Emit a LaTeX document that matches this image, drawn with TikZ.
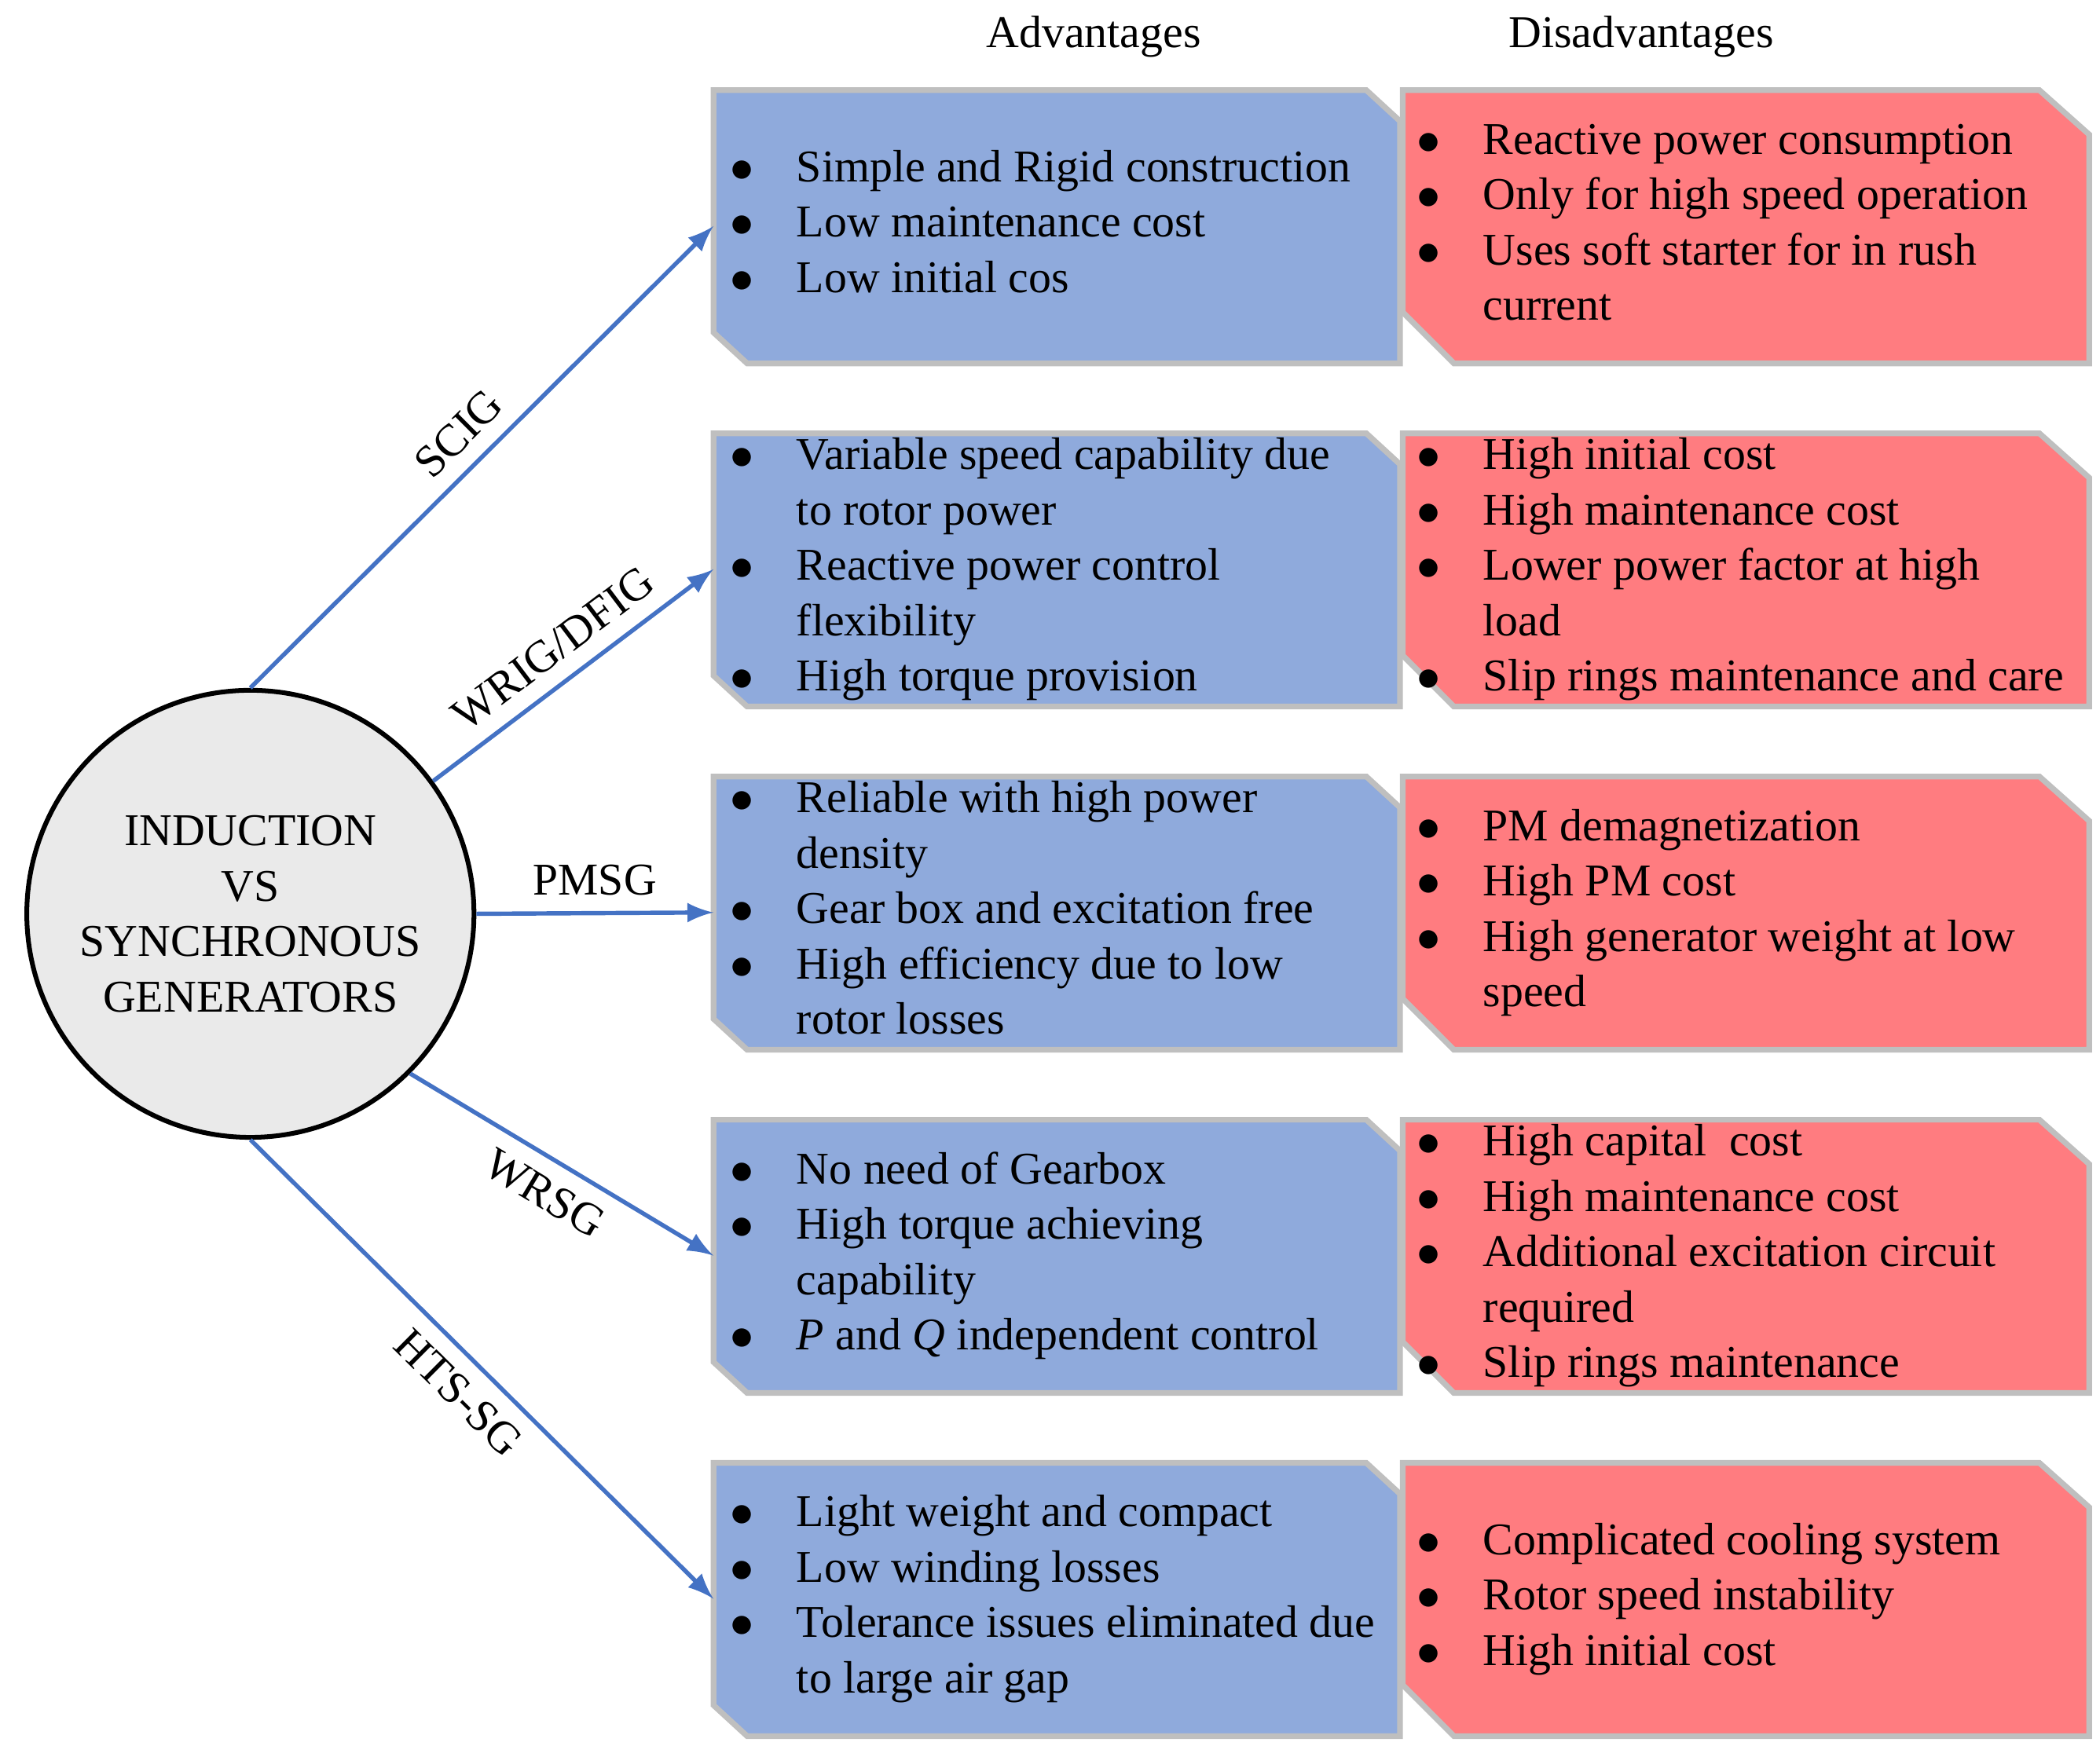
\documentclass[tikz,border=0pt]{standalone}
\usepackage{fontspec}
\setmainfont{Liberation Serif}
\begin{document}
\begin{tikzpicture}[x=0.01cm,y=-0.01cm,
  adv/.style={fill={rgb,255:red,143;green,170;blue,220},draw={rgb,255:red,191;green,191;blue,191},line width=1.2pt},
  dis/.style={fill={rgb,255:red,255;green,124;blue,128},draw={rgb,255:red,191;green,191;blue,191},line width=1.2pt},
  txt/.style={anchor=west,inner sep=0pt,font=\fontsize{9.6}{11.7}\selectfont},
  arr/.style={draw={rgb,255:red,68;green,114;blue,196},line width=0.9pt,-latex},
  lab/.style={font=\fontsize{9.6}{11.7}\selectfont,sloped}]
\useasboundingbox (0,0) rectangle (1560,1305);
\newcommand{\bx}[2]{%
 \draw[adv] (530,#1) -- (1015,#1) -- (1040,#1+23) -- (1040,#1+203) -- (555,#1+203) -- (530,#1+180) -- cycle;
 \draw[dis] (1042,#1) -- (1515,#1) -- (1552,#1+33) -- (1552,#1+203) -- (1080,#1+203) -- (1042,#1+165) -- cycle;
 \coordinate (#2) at (530,#1+101);}
\bx{67}{t1}\bx{322}{t2}\bx{577}{t3}\bx{832}{t4}\bx{1087}{t5}
\node[txt] (h1) at (732,27) {Advantages};
\node[txt] (h2) at (1120,27) {Disadvantages};
\def\b{$\bullet$}
\def\tb#1{\begin{tabular}{@{}p{0.49cm}@{}l@{}}#1\end{tabular}}
\node[txt] (a1) at (542,168) {\tb{\b & Simple and Rigid construction\\ \b & Low maintenance cost\\ \b & Low initial cos}};
\node[txt] (d1) at (1052,168) {\tb{\b & Reactive power consumption\\ \b & Only for high speed operation\\ \b & Uses soft starter for in rush\\ & current}};
\node[txt] (a2) at (542,423) {\tb{\b & Variable speed capability due\\ & to rotor power\\ \b & Reactive power control\\ & flexibility\\ \b & High torque provision}};
\node[txt] (d2) at (1052,423) {\tb{\b & High initial cost\\ \b & High maintenance cost\\ \b & Lower power factor at high\\ & load\\ \b & Slip rings maintenance and care}};
\node[txt] (a3) at (542,678) {\tb{\b & Reliable with high power\\ & density\\ \b & Gear box and excitation free\\ \b & High efficiency due to low\\ & rotor losses}};
\node[txt] (d3) at (1052,678) {\tb{\b & PM demagnetization\\ \b & High PM cost\\ \b & High generator weight at low\\ & speed}};
\node[txt] (a4) at (542,933) {\tb{\b & No need of Gearbox\\ \b & High torque achieving\\ & capability\\ \b & \textit{P} and \textit{Q} independent control}};
\node[txt] (d4) at (1052,933) {\tb{\b & High capital\ \ cost\\ \b & High maintenance cost\\ \b & Additional excitation circuit\\ & required\\ \b & Slip rings maintenance}};
\node[txt] (a5) at (542,1188) {\tb{\b & Light weight and compact\\ \b & Low winding losses\\ \b & Tolerance issues eliminated due\\ & to large air gap}};
\node[txt] (d5) at (1052,1188) {\tb{\b & Complicated cooling system\\ \b & Rotor speed instability\\ \b & High initial cost}};
\node[circle,draw,line width=1pt,fill={rgb,255:red,234;green,234;blue,234},minimum size=3.32cm,inner sep=0pt,align=center,font=\fontsize{9.6}{11.7}\selectfont] (c) at (186,679) {INDUCTION\\VS\\SYNCHRONOUS\\GENERATORS};
\draw[arr] (c.north) -- node[lab,above] {SCIG} (t1);
\draw[arr] (c.36) -- node[lab,above] {WRIG/DFIG} (t2);
\draw[arr] (c.east) -- node[lab,above] {PMSG} (t3);
\draw[arr] (c.-45) -- node[lab,below] {WRSG} (t4);
\draw[arr] (c.south) -- node[lab,below] {HTS-SG} (t5);
\end{tikzpicture}
\end{document}
